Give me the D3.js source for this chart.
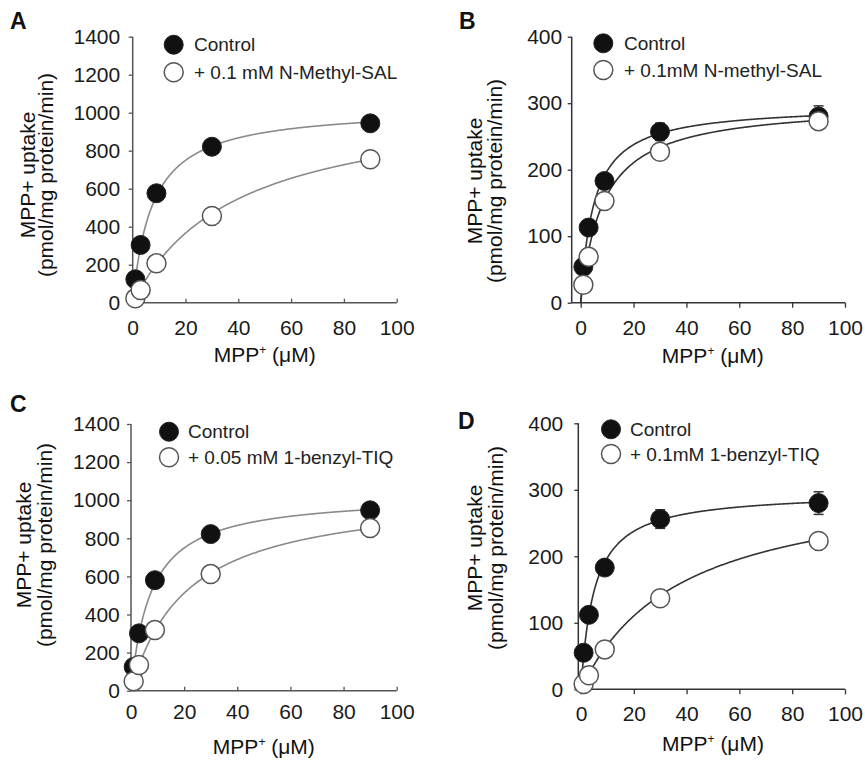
<!DOCTYPE html>
<html>
<head>
<meta charset="utf-8">
<script src="https://cdn.jsdelivr.net/npm/d3@7"></script>
<style>
  body { margin: 0; background: #fff; }
  svg { font-family: "Liberation Sans", Arial, sans-serif; }
</style>
</head>
<body>
<div id="chart"></div>
<script>

// MPP+ concentrations (uM)
const conc = [1, 3, 9, 30, 90];
const xTicks = [0, 20, 40, 60, 80, 100];

// uptake values (pmol/mg protein/min)
const ctrlA  = [123, 304, 576, 821, 944];
const nmsalA = [23, 67, 207, 456, 755];

const ctrlB     = [54, 113, 183, 257, 280];
const ctrlBErr  = [4, 5, 7, 13, 16];
const nmsalB    = [27, 69, 153, 227, 273];
const nmsalBErr = [3, 4, 6, 7, 8];

const ctrlC = [125, 301, 580, 822, 947];
const btiqC = [50, 135, 318, 612, 854];

const ctrlD    = [55, 112, 183, 256, 280];
const ctrlDErr = [4, 5, 7, 14, 17];
const btiqD    = [8, 21, 60, 137, 223];
const btiqDErr = [2, 3, 5, 6, 8];

// fitted Michaelis-Menten curves [Vmax, Km]
const fitCtrlA  = [1030, 7.5];
const fitNmsalA = [1080, 39];
const fitCtrlB  = [297, 5];
const fitNmsalB = [300, 8.5];
const fitCtrlC  = [1030, 7.5];
const fitBtiqC  = [1050, 21];
const fitCtrlD  = [297, 5];
const fitBtiqD  = [320, 38];

const legendCtrl = "Control";
const legendA = "+ 0.1 mM N-Methyl-SAL";
const legendB = "+ 0.1mM N-methyl-SAL";
const legendC = "+ 0.05 mM 1-benzyl-TIQ";
const legendD = "+ 0.1mM 1-benzyl-TIQ";

const W = 865, H = 763;

const svg = d3.select("#chart").append("svg")
  .attr("width", W)
  .attr("height", H);

const panels = [
  {letter: "A", lx: 10, ly: 29, ax: 132.7, x0: 132.7, x1: 396.7, y0: 302.7, y1: 36.7,
   ymax: 1400, ystep: 200, xtick: -4, xpad: 17, ypad: 8.5, axisColor: "#555", curveColor: "#8a8a8a",
   t1: 35, t2: 53, tcy: 175, xtb: 361.7, lcx: 173.7, lcy: 44.7, ldy: 27.5, ltx: 194,
   ctrl: ctrlA, trt: nmsalA, ctrlErr: null, trtErr: null, fitC: fitCtrlA, fitT: fitNmsalA, label: legendA},
  {letter: "B", lx: 459, ly: 29, ax: 571.7, x0: 580.7, x1: 845, y0: 302.7, y1: 36.7,
   ymax: 400, ystep: 100, xtick: 5, xpad: 12, ypad: 5.5, axisColor: "#333", curveColor: "#333",
   t1: 482, t2: 502, tcy: 181, xtb: 363, lcx: 603.3, lcy: 43.3, ldy: 26.7, ltx: 624,
   ctrl: ctrlB, trt: nmsalB, ctrlErr: ctrlBErr, trtErr: nmsalBErr, fitC: fitCtrlB, fitT: fitNmsalB, label: legendB},
  {letter: "C", lx: 10, ly: 412, ax: 131, x0: 131, x1: 396.7, y0: 690.7, y1: 424,
   ymax: 1400, ystep: 200, xtick: -4, xpad: 13.5, ypad: 7.2, axisColor: "#555", curveColor: "#8a8a8a",
   t1: 31, t2: 52, tcy: 545, xtb: 754, lcx: 169, lcy: 431.7, ldy: 25.6, ltx: 188,
   ctrl: ctrlC, trt: btiqC, ctrlErr: null, trtErr: null, fitC: fitCtrlC, fitT: fitBtiqC, label: legendC},
  {letter: "D", lx: 458, ly: 429, ax: 578.3, x0: 581, x1: 845, y0: 689.3, y1: 423.3,
   ymax: 400, ystep: 100, xtick: 5, xpad: 12, ypad: 11, axisColor: "#333", curveColor: "#333",
   t1: 482, t2: 503, tcy: 548, xtb: 751, lcx: 611, lcy: 429.3, ldy: 24.7, ltx: 630,
   ctrl: ctrlD, trt: btiqD, ctrlErr: ctrlDErr, trtErr: btiqDErr, fitC: fitCtrlD, fitT: fitBtiqD, label: legendD}
];

const R = 9.5;

function drawPanel(p) {
  const x = d3.scaleLinear().domain([0, 100]).range([p.x0, p.x1]);
  const y = d3.scaleLinear().domain([0, p.ymax]).range([p.y0, p.y1]);
  const g = svg.append("g");

  // axis lines
  g.append("line")
    .attr("x1", p.ax).attr("x2", p.ax)
    .attr("y1", y(0)).attr("y2", y(p.ymax))
    .attr("stroke", p.axisColor).attr("stroke-width", 1.5);
  g.append("line")
    .attr("x1", p.ax).attr("x2", x(100))
    .attr("y1", y(0)).attr("y2", y(0))
    .attr("stroke", p.axisColor).attr("stroke-width", 1.5);

  const xa = g.append("g")
    .attr("transform", `translate(0,${y(0)})`)
    .call(d3.axisBottom(x).tickValues(xTicks).tickFormat(d3.format("d"))
      .tickSizeInner(p.xtick).tickSizeOuter(0).tickPadding(p.xpad));
  xa.select(".domain").remove();

  const ya = g.append("g")
    .attr("transform", `translate(${p.ax},0)`)
    .call(d3.axisLeft(y).tickValues(d3.range(0, p.ymax + 1, p.ystep)).tickFormat(d3.format("d"))
      .tickSizeInner(4).tickSizeOuter(0).tickPadding(p.ypad));
  ya.select(".domain").remove();

  g.selectAll(".tick line").attr("stroke", p.axisColor).attr("stroke-width", 1.3);
  g.selectAll(".tick text")
    .attr("fill", "#1a1a1a")
    .style("font-size", "21px")
    .style("font-family", "'Liberation Sans', Arial, sans-serif");

  // fitted curves
  const line = d3.line().x(d => x(d[0])).y(d => y(d[1]));
  const mm = f => d3.range(0, 90.001, 0.25).map(s => [s, f[0] * s / (f[1] + s)]);
  [p.fitC, p.fitT].forEach(f => {
    g.append("path")
      .attr("d", line(mm(f)))
      .attr("fill", "none")
      .attr("stroke", p.curveColor)
      .attr("stroke-width", 1.6);
  });

  // error bars
  [[p.ctrl, p.ctrlErr], [p.trt, p.trtErr]].forEach(([vals, errs]) => {
    if (!errs) return;
    vals.forEach((v, i) => {
      const cx = x(conc[i]);
      g.append("line")
        .attr("x1", cx).attr("x2", cx)
        .attr("y1", y(v - errs[i])).attr("y2", y(v + errs[i]))
        .attr("stroke", "#333").attr("stroke-width", 1.5);
      [v - errs[i], v + errs[i]].forEach(e => {
        g.append("line")
          .attr("x1", cx - 5).attr("x2", cx + 5)
          .attr("y1", y(e)).attr("y2", y(e))
          .attr("stroke", "#333").attr("stroke-width", 1.5);
      });
    });
  });

  // points: control (filled), then treated (open) on top
  g.selectAll(".ctrl").data(p.ctrl).enter().append("circle")
    .attr("class", "ctrl")
    .attr("cx", (d, i) => x(conc[i]))
    .attr("cy", d => y(d))
    .attr("r", R)
    .attr("fill", "#111")
    .attr("stroke", "#222")
    .attr("stroke-width", 1);

  g.selectAll(".trt").data(p.trt).enter().append("circle")
    .attr("class", "trt")
    .attr("cx", (d, i) => x(conc[i]))
    .attr("cy", d => y(d))
    .attr("r", R)
    .attr("fill", "#fff")
    .attr("stroke", "#555")
    .attr("stroke-width", 1.5);

  // legend
  g.append("circle")
    .attr("cx", p.lcx).attr("cy", p.lcy).attr("r", R)
    .attr("fill", "#111").attr("stroke", "#222");
  g.append("circle")
    .attr("cx", p.lcx).attr("cy", p.lcy + p.ldy).attr("r", R)
    .attr("fill", "#fff").attr("stroke", "#555").attr("stroke-width", 1.5);
  g.append("text")
    .attr("x", p.ltx).attr("y", p.lcy + 6.5)
    .attr("font-size", 19).attr("fill", "#222")
    .text(legendCtrl);
  g.append("text")
    .attr("x", p.ltx).attr("y", p.lcy + p.ldy + 6.5)
    .attr("font-size", 19).attr("fill", "#222")
    .text(p.label);

  // y title
  const cx = d3.mean([p.x0, p.x1]);
  g.append("text")
    .attr("transform", `translate(${p.t1},${p.tcy}) rotate(-90)`)
    .attr("text-anchor", "middle")
    .attr("font-size", 21).attr("fill", "#111")
    .text("MPP+ uptake");
  g.append("text")
    .attr("transform", `translate(${p.t2},${p.tcy}) rotate(-90)`)
    .attr("text-anchor", "middle")
    .attr("font-size", 21).attr("fill", "#111")
    .text("(pmol/mg protein/min)");

  // x title
  const xt = g.append("text")
    .attr("x", cx).attr("y", p.xtb)
    .attr("text-anchor", "middle")
    .attr("font-size", 21).attr("fill", "#111");
  xt.append("tspan").text("MPP");
  xt.append("tspan").attr("dy", -8).attr("font-size", 12).text("+");
  xt.append("tspan").attr("dy", 8).text(" (\u03BCM)");

  // panel letter
  svg.append("text")
    .attr("x", p.lx).attr("y", p.ly)
    .attr("font-size", 23).attr("font-weight", "bold").attr("fill", "#111")
    .text(p.letter);
}

panels.forEach(drawPanel);

</script>
</body>
</html>
